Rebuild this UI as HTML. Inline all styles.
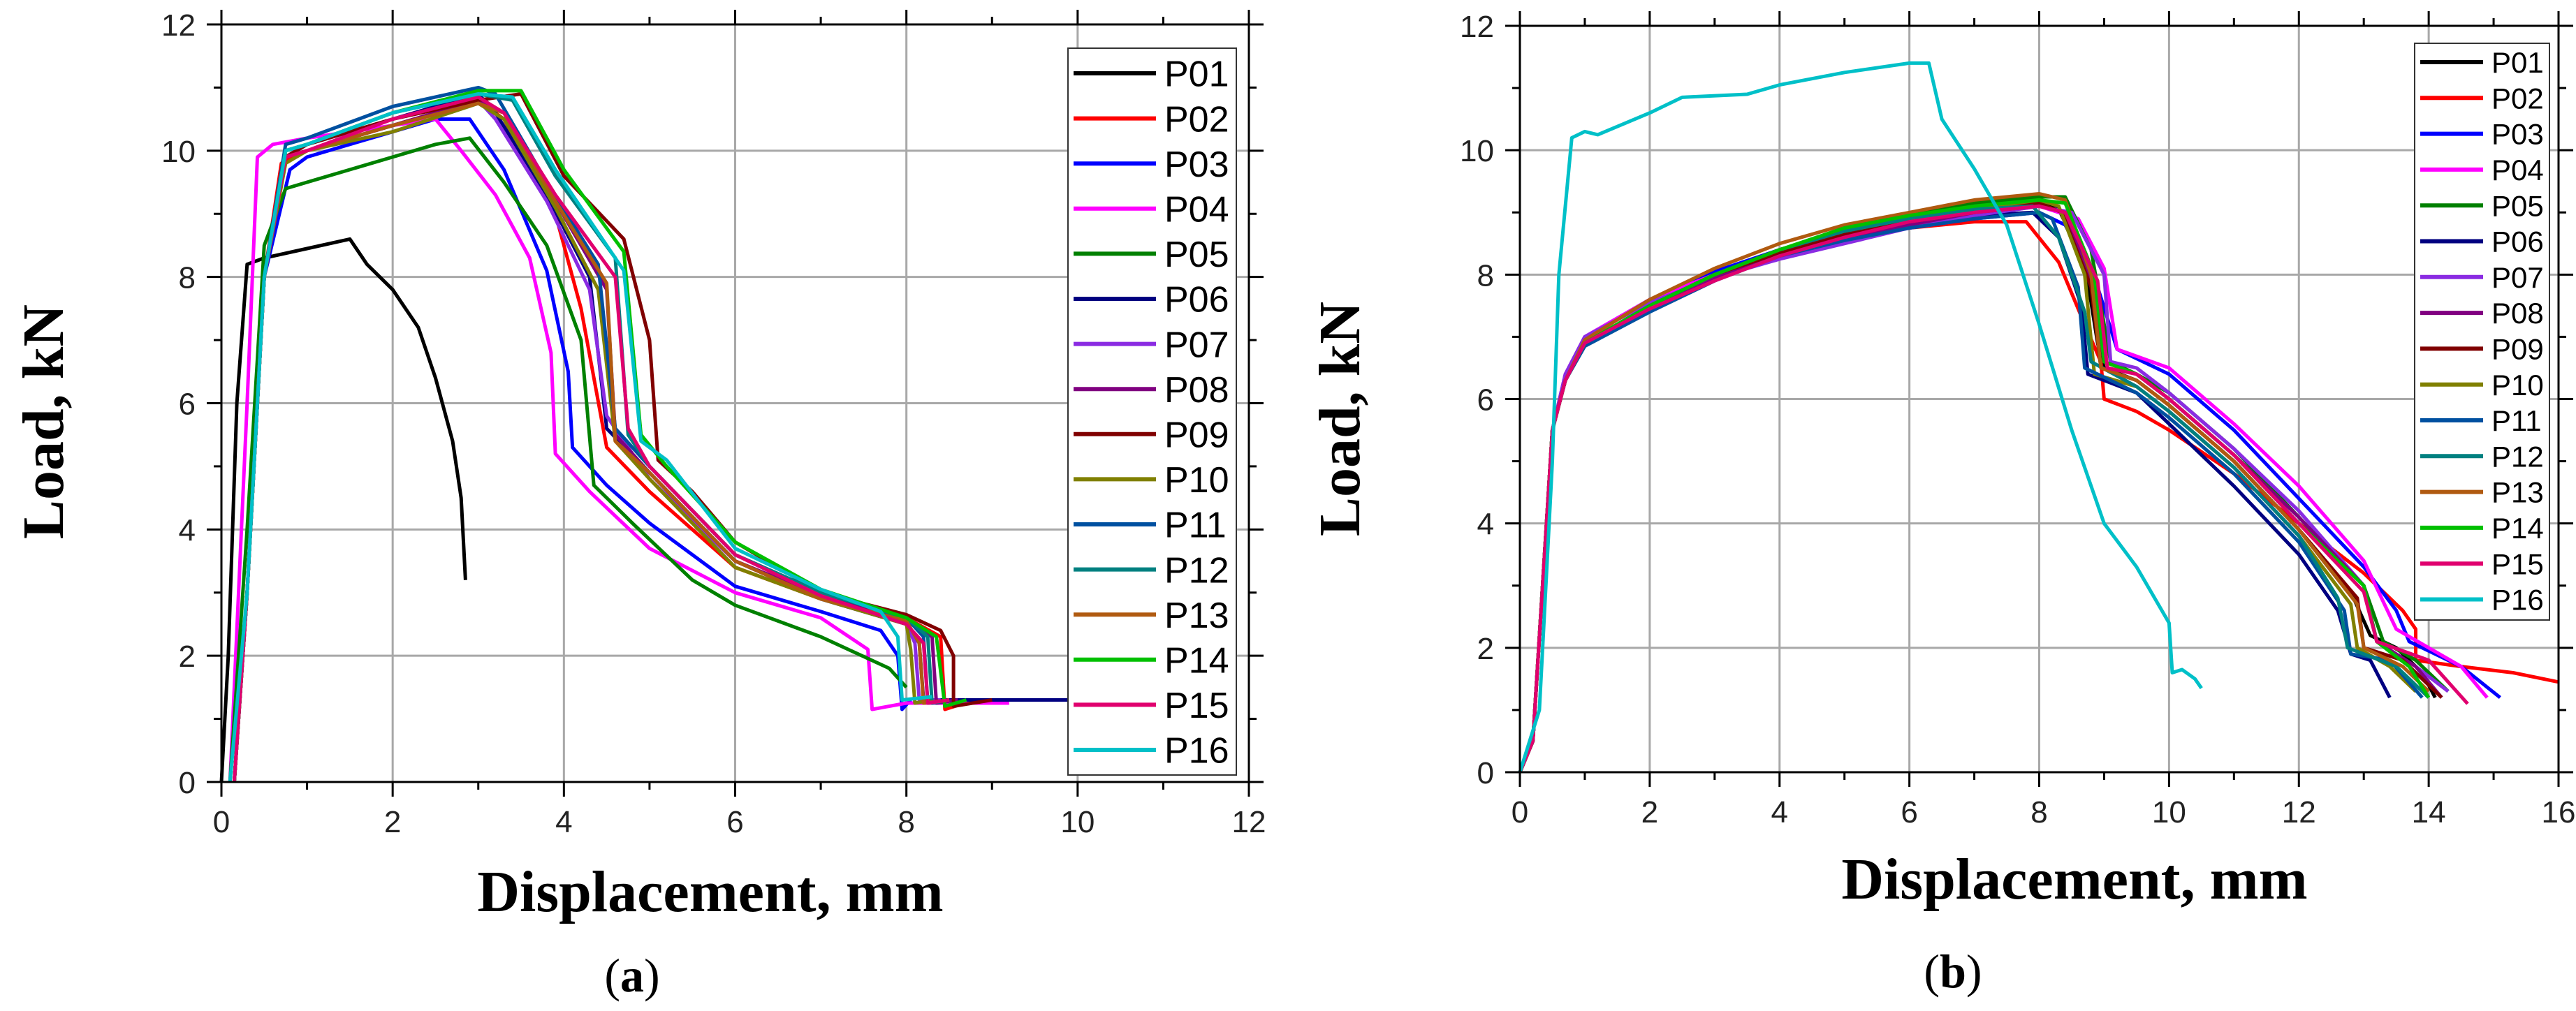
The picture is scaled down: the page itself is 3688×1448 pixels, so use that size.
<!DOCTYPE html>
<html><head><meta charset="utf-8"><style>
html,body{margin:0;padding:0;background:#fff;}
svg{display:block}
text{font-family:"Liberation Sans",sans-serif}
.ser{font-family:"Liberation Serif",serif;font-weight:bold}
</style></head><body>
<svg id="fig" width="3688" height="1448" viewBox="0 0 3688 1448" xmlns="http://www.w3.org/2000/svg">
<rect width="3688" height="1448" fill="#fff"/>
<g id="chartA"></g>
<g id="chartB"></g>
<text class="ser" x="1017" y="1305" font-size="84" text-anchor="middle">Displacement, mm</text>
<text class="ser" x="2970" y="1287" font-size="84" text-anchor="middle">Displacement, mm</text>
<text class="ser" transform="translate(90,604) rotate(-90)" font-size="84" text-anchor="middle">Load, kN</text>
<text class="ser" transform="translate(1946,600) rotate(-90)" font-size="84" text-anchor="middle">Load, kN</text>
<text x="905" y="1420" font-size="68" text-anchor="middle" style="font-family:'Liberation Serif',serif">(<tspan font-weight="bold">a</tspan>)</text>
<text x="2796" y="1414" font-size="68" text-anchor="middle" style="font-family:'Liberation Serif',serif">(<tspan font-weight="bold">b</tspan>)</text>
</svg>
<script>
const seriesNames = ["P01","P02","P03","P04","P05","P06","P07","P08","P09","P10","P11","P12","P13","P14","P15","P16"];
const seriesColors = ["#000000","#ff0000","#0000ff","#ff00ff","#008000","#000080","#8a2be2","#800080","#800000","#808000","#0050a0","#008080","#b05a10","#00c000","#e0006e","#00c0c8"];
const xTicksA = [0,2,4,6,8,10,12];
const yTicks = [0,2,4,6,8,10,12];
const xTicksB = [0,2,4,6,8,10,12,14,16];

// Panel (a) series: [displacement mm, load kN]
const a_P01 = [[0,0],[0.08,2],[0.18,6],[0.3,8.2],[0.5,8.3],[1,8.45],[1.5,8.6],[1.7,8.2],[2,7.8],[2.3,7.2],[2.5,6.4],[2.7,5.4],[2.8,4.5],[2.85,3.2]];
const a_P02 = [[0.15,0],[0.3,3],[0.5,8],[0.7,9.8],[1,10],[2,10.4],[3,10.8],[3.3,10.5],[3.9,9.0],[4.2,7.5],[4.5,5.3],[5,4.6],[6,3.4],[7,2.9],[8,2.6],[8.4,2.3],[8.45,1.15],[8.8,1.3]];
const a_P03 = [[0.15,0],[0.3,3],[0.5,8],[0.8,9.7],[1,9.9],[2,10.3],[2.5,10.5],[2.9,10.5],[3.3,9.7],[3.8,8.1],[4.05,6.5],[4.1,5.3],[4.5,4.7],[5,4.1],[6,3.1],[7,2.7],[7.7,2.4],[7.9,2],[7.95,1.15],[8.05,1.3]];
const a_P04 = [[0.1,0],[0.3,6],[0.42,9.9],[0.6,10.1],[1,10.2],[2,10.4],[2.5,10.5],[2.8,10],[3.2,9.3],[3.6,8.3],[3.85,6.8],[3.9,5.2],[4.3,4.6],[5,3.7],[6,3],[7,2.6],[7.55,2.1],[7.6,1.15],[8,1.25],[9.2,1.25]];
const a_P05 = [[0.1,0],[0.3,4],[0.5,8.5],[0.75,9.4],[1,9.5],[2,9.9],[2.5,10.1],[2.9,10.2],[3.3,9.5],[3.8,8.5],[4.2,7],[4.35,4.7],[4.8,4.1],[5.5,3.2],[6,2.8],[7,2.3],[7.8,1.8],[8,1.5]];
const a_P06 = [[0.15,0],[0.3,3],[0.5,8],[0.75,9.9],[1,10.1],[2,10.5],[3,10.9],[3.2,10.6],[3.8,9.3],[4.3,8],[4.5,5.6],[5,4.9],[6,3.5],[7,2.9],[8,2.5],[8.15,2.2],[8.2,1.3],[10,1.3],[10.3,1.25]];
const a_P07 = [[0.15,0],[0.3,3],[0.5,8],[0.75,9.9],[1,10],[2,10.4],[3,10.8],[3.2,10.5],[3.8,9.2],[4.3,7.8],[4.5,5.8],[5,4.8],[6,3.5],[7,2.9],[8,2.5],[8.1,2.2],[8.15,1.3],[8.4,1.3]];
const a_P08 = [[0.15,0],[0.3,3],[0.5,8],[0.75,9.9],[1,10],[2,10.4],[3,10.8],[3.3,10.6],[3.9,9.2],[4.5,7.8],[4.6,5.5],[5,4.9],[6,3.5],[7,2.95],[8,2.55],[8.3,2.3],[8.35,1.25],[8.6,1.3]];
const a_P09 = [[0.15,0],[0.3,3],[0.5,8],[0.75,9.9],[1,10.1],[2,10.5],[3,10.8],[3.5,10.9],[4,9.6],[4.7,8.6],[5.0,7.0],[5.1,5.1],[5.5,4.6],[6,3.8],[7,3],[8,2.65],[8.4,2.4],[8.55,2],[8.55,1.2],[9,1.3]];
const a_P10 = [[0.15,0],[0.3,3],[0.5,8],[0.75,9.8],[1,10],[2,10.3],[3,10.75],[3.3,10.5],[3.9,9.1],[4.4,7.8],[4.6,5.4],[5,4.8],[6,3.4],[7,2.9],[8,2.5],[8.05,2.1],[8.1,1.25],[8.3,1.3]];
const a_P11 = [[0.15,0],[0.3,3],[0.5,8],[0.75,10.1],[1,10.2],[2,10.7],[3,11.0],[3.2,10.9],[3.8,9.5],[4.4,8.2],[4.6,5.6],[5,5.0],[6,3.6],[7,3.0],[8,2.6],[8.2,2.3],[8.25,1.25],[8.5,1.3]];
const a_P12 = [[0.15,0],[0.3,3],[0.5,8],[0.75,10.0],[1,10.1],[2,10.6],[3,10.9],[3.4,10.8],[3.9,9.6],[4.6,8.3],[4.75,5.5],[5,5.0],[6,3.6],[7,3.0],[8,2.6],[8.25,2.3],[8.3,1.25],[8.5,1.3]];
const a_P13 = [[0.15,0],[0.3,3],[0.5,8],[0.75,9.9],[1,10],[2,10.4],[3,10.75],[3.3,10.6],[3.9,9.2],[4.5,7.9],[4.6,5.4],[5,4.9],[6,3.5],[7,2.9],[8,2.55],[8.15,2.2],[8.2,1.25],[8.5,1.3]];
const a_P14 = [[0.15,0],[0.3,3],[0.5,8],[0.75,10.0],[1,10.1],[2,10.6],[3,10.95],[3.5,10.95],[4,9.7],[4.7,8.4],[4.9,5.5],[5.2,5.0],[6,3.8],[7,3.05],[8,2.6],[8.35,2.3],[8.45,1.2],[8.7,1.3]];
const a_P15 = [[0.15,0],[0.3,3],[0.5,8],[0.75,9.9],[1,10],[2,10.5],[3,10.85],[3.3,10.6],[3.9,9.3],[4.6,8],[4.75,5.6],[5,5.0],[6,3.6],[7,2.95],[8,2.5],[8.2,2.2],[8.25,1.25],[8.5,1.3]];
const a_P16 = [[0.1,0],[0.3,3],[0.5,8],[0.75,10.0],[1,10.1],[2,10.6],[3,10.9],[3.4,10.85],[3.9,9.7],[4.7,8.1],[4.9,5.4],[5.2,5.1],[6,3.7],[7,3.05],[7.7,2.7],[7.9,2.3],[7.95,1.3],[8.3,1.35]];

// Panel (b) series
const b_P01 = [[0,0],[0.2,0.5],[0.35,3],[0.5,5.5],[0.7,6.3],[1,6.9],[2,7.5],[3,8.0],[4,8.4],[5,8.7],[6,8.9],[7,9.05],[8,9.15],[8.3,9.05],[8.7,8.2],[8.9,6.9],[9.0,6.5],[9.5,6.3],[10,5.9],[11,5.0],[12,3.9],[12.8,2.9],[13.1,2.2],[13.5,2.0],[13.9,1.6],[14.1,1.2]];
const b_P02 = [[0,0],[0.2,0.5],[0.35,3],[0.5,5.5],[0.7,6.3],[1,6.9],[2,7.5],[3,8.0],[4,8.35],[5,8.6],[6,8.75],[7,8.85],[7.8,8.85],[8.3,8.2],[8.7,7.2],[8.95,6.6],[9.0,6.0],[9.5,5.8],[10,5.5],[11,4.8],[12,4.0],[13,3.2],[13.6,2.6],[13.8,2.3],[13.8,1.8],[14.5,1.7],[15.3,1.6],[16,1.45]];
const b_P03 = [[0,0],[0.2,0.5],[0.35,3],[0.5,5.5],[0.7,6.4],[1,7.0],[2,7.6],[3,8.05],[4,8.4],[5,8.6],[6,8.75],[7,8.9],[8,9.0],[8.4,8.8],[8.9,7.8],[9.2,6.8],[10,6.4],[11,5.5],[12,4.4],[13,3.3],[13.5,2.6],[13.7,2.1],[14.5,1.7],[15.1,1.2]];
const b_P04 = [[0,0],[0.2,0.5],[0.35,3],[0.5,5.5],[0.7,6.4],[1,7.0],[2,7.6],[3,8.0],[4,8.3],[5,8.55],[6,8.75],[7,8.95],[8,9.1],[8.6,8.9],[9.0,8.1],[9.2,6.8],[10,6.5],[11,5.6],[12,4.6],[13,3.4],[13.5,2.3],[14,2.0],[14.5,1.7],[14.9,1.2]];
const b_P05 = [[0,0],[0.2,0.5],[0.35,3],[0.5,5.5],[0.7,6.3],[1,6.9],[2,7.5],[3,8.0],[4,8.4],[5,8.7],[6,8.95],[7,9.15],[8,9.25],[8.4,9.25],[8.8,8.4],[9.1,6.6],[9.5,6.4],[10,6.1],[11,5.2],[12,4.1],[13,3.0],[13.3,2.1],[13.8,1.8],[14.3,1.3]];
const b_P06 = [[0,0],[0.2,0.5],[0.35,3],[0.5,5.5],[0.7,6.3],[1,6.9],[2,7.5],[3,8.0],[4,8.35],[5,8.6],[6,8.8],[7,8.95],[7.9,9.0],[8.3,8.6],[8.65,7.5],[8.75,6.4],[9.5,6.1],[10,5.6],[11,4.6],[12,3.5],[12.6,2.6],[12.8,1.9],[13.1,1.8],[13.4,1.2]];
const b_P07 = [[0,0],[0.2,0.5],[0.35,3],[0.5,5.5],[0.7,6.4],[1,7.0],[2,7.55],[3,7.95],[4,8.25],[5,8.5],[6,8.75],[7,8.95],[8,9.1],[8.5,9.0],[9.0,8.0],[9.1,6.6],[9.5,6.5],[10,6.1],[11,5.2],[12,4.2],[13,3.0],[13.2,2.1],[13.8,1.7],[14.3,1.3]];
const b_P08 = [[0,0],[0.2,0.5],[0.35,3],[0.5,5.5],[0.7,6.3],[1,6.9],[2,7.45],[3,7.95],[4,8.3],[5,8.6],[6,8.8],[7,9.0],[8,9.1],[8.4,9.0],[8.85,7.8],[9.0,6.6],[9.5,6.4],[10,6.0],[11,5.1],[12,4.1],[13,3.0],[13.2,2.1],[13.8,1.7],[14.2,1.2]];
const b_P09 = [[0,0],[0.2,0.5],[0.35,3],[0.5,5.5],[0.7,6.3],[1,6.9],[2,7.5],[3,8.0],[4,8.35],[5,8.65],[6,8.85],[7,9.0],[8,9.15],[8.35,9.0],[8.8,7.8],[8.95,6.5],[9.5,6.3],[10,5.9],[11,5.0],[12,3.9],[12.9,2.8],[13.0,2.0],[13.6,1.8],[14.2,1.2]];
const b_P10 = [[0,0],[0.2,0.5],[0.35,3],[0.5,5.5],[0.7,6.3],[1,6.9],[2,7.5],[3,8.0],[4,8.4],[5,8.7],[6,8.9],[7,9.05],[8,9.2],[8.3,9.1],[8.7,8.0],[8.85,6.4],[9.5,6.2],[10,5.8],[11,4.9],[12,3.8],[12.8,2.7],[12.9,2.0],[13.4,1.7],[13.8,1.3]];
const b_P11 = [[0,0],[0.2,0.5],[0.35,3],[0.5,5.5],[0.7,6.3],[1,6.85],[2,7.4],[3,7.9],[4,8.3],[5,8.55],[6,8.75],[7,8.9],[8,9.0],[8.2,8.9],[8.6,7.8],[8.7,6.5],[9.5,6.1],[10,5.7],[11,4.8],[12,3.7],[12.7,2.6],[12.8,1.9],[13.4,1.8],[13.9,1.2]];
const b_P12 = [[0,0],[0.2,0.5],[0.35,3],[0.5,5.5],[0.7,6.3],[1,6.9],[2,7.5],[3,8.0],[4,8.4],[5,8.7],[6,8.9],[7,9.05],[7.9,9.1],[8.3,8.6],[8.7,7.4],[8.8,6.6],[9.5,6.2],[10,5.8],[11,4.9],[12,3.8],[12.6,2.8],[12.75,2.0],[13.5,1.7],[14,1.2]];
const b_P13 = [[0,0],[0.2,0.5],[0.35,3],[0.5,5.5],[0.7,6.3],[1,6.95],[2,7.6],[3,8.1],[4,8.5],[5,8.8],[6,9.0],[7,9.2],[8,9.3],[8.4,9.2],[8.8,8.0],[8.95,6.5],[9.5,6.3],[10,5.9],[11,5.0],[12,3.9],[12.9,2.7],[13.0,2.0],[13.6,1.7],[14,1.3]];
const b_P14 = [[0,0],[0.2,0.5],[0.35,3],[0.5,5.5],[0.7,6.3],[1,6.9],[2,7.5],[3,8.0],[4,8.4],[5,8.75],[6,8.95],[7,9.1],[8,9.2],[8.4,9.15],[8.85,8.0],[9.0,6.6],[9.5,6.4],[10,6.0],[11,5.1],[12,4.0],[13,3.0],[13.2,2.1],[13.7,1.7],[14.0,1.2]];
const b_P15 = [[0,0],[0.2,0.5],[0.35,3],[0.5,5.5],[0.7,6.3],[1,6.9],[2,7.45],[3,7.9],[4,8.3],[5,8.6],[6,8.85],[7,9.0],[8,9.1],[8.4,9.0],[8.9,7.9],[9.05,6.5],[9.5,6.4],[10,6.0],[11,5.1],[12,4.0],[13,2.9],[13.2,2.1],[14,1.8],[14.6,1.1]];
const b_P16 = [[0,0],[0.3,1],[0.5,5],[0.6,8],[0.8,10.2],[1,10.3],[1.2,10.25],[2,10.6],[2.5,10.85],[3.5,10.9],[4,11.05],[5,11.25],[6,11.4],[6.3,11.4],[6.5,10.5],[7,9.7],[7.5,8.8],[8,7.2],[8.5,5.5],[9,4],[9.5,3.3],[10,2.4],[10.05,1.6],[10.2,1.65],[10.4,1.5],[10.5,1.35]];

const seriesA = [a_P01,a_P02,a_P03,a_P04,a_P05,a_P06,a_P07,a_P08,a_P09,a_P10,a_P11,a_P12,a_P13,a_P14,a_P15,a_P16];
const seriesB = [b_P01,b_P02,b_P03,b_P04,b_P05,b_P06,b_P07,b_P08,b_P09,b_P10,b_P11,b_P12,b_P13,b_P14,b_P15,b_P16];

const NS = "http://www.w3.org/2000/svg";
function mk(parent, tag, attrs){ const e=document.createElementNS(NS,tag); for(const k in attrs) e.setAttribute(k,attrs[k]); parent.appendChild(e); return e; }

function drawChart(g, cfg, series, xTicks){
  const sx = v => cfg.x0 + (v - 0) / cfg.xMax * (cfg.x1 - cfg.x0);
  const sy = v => cfg.y0 - v / 12 * (cfg.y0 - cfg.y1);
  xTicks.forEach(t=>{ if(t>0 && t<cfg.xMax){ const l=mk(g,'line',{x1:sx(t),x2:sx(t),y1:cfg.y1,y2:cfg.y0,stroke:'#a8a8a8','stroke-width':3});
    
     }});
  yTicks.forEach(t=>{ if(t>0 && t<12){ const l=mk(g,'line',{x1:cfg.x0,x2:cfg.x1,y1:sy(t),y2:sy(t),stroke:'#a8a8a8','stroke-width':3});
    
     }});
  series.forEach((s,i)=>{
    const p = mk(g,'polyline',{points:s.map(d=>sx(d[0]).toFixed(1)+','+sy(d[1]).toFixed(1)).join(' '),fill:'none',stroke:seriesColors[i],'stroke-width':5,'stroke-linejoin':'round'});
    
    
  });
  const fr = mk(g,'rect',{x:cfg.x0,y:cfg.y1,width:cfg.x1-cfg.x0,height:cfg.y0-cfg.y1,fill:'none',stroke:'#000','stroke-width':3});
  
  
  for(let t=0;t<=cfg.xMax;t+=1){ const len = t%2===0?21:11;
    mk(g,'line',{x1:sx(t),x2:sx(t),y1:cfg.y0,y2:cfg.y0+len,stroke:'#000','stroke-width':3});
    mk(g,'line',{x1:sx(t),x2:sx(t),y1:cfg.y1,y2:cfg.y1-len,stroke:'#000','stroke-width':3}); }
  for(let t=0;t<=12;t+=1){ const len = t%2===0?21:11;
    mk(g,'line',{x1:cfg.x0,x2:cfg.x0-len,y1:sy(t),y2:sy(t),stroke:'#000','stroke-width':3});
    mk(g,'line',{x1:cfg.x1,x2:cfg.x1+len,y1:sy(t),y2:sy(t),stroke:'#000','stroke-width':3}); }
  xTicks.forEach(t=>{ const tx=mk(g,'text',{x:sx(t),y:cfg.y0+72,'font-size':44,'text-anchor':'middle',fill:'#222'}); tx.textContent=t;
    
     });
  yTicks.forEach(t=>{ const tx=mk(g,'text',{x:cfg.x0-37,y:sy(t)+16,'font-size':44,'text-anchor':'end',fill:'#222'}); tx.textContent=t;
    
     });
  const L = cfg.leg;
  const lg = mk(g,'g',{});
  
  
  mk(lg,'rect',{x:L.x,y:L.y,width:L.w,height:L.h,fill:'#fff',stroke:'#333','stroke-width':2});
  seriesNames.forEach((n,i)=>{
    const yy = L.y + L.pad + i*L.step;
    const e = mk(lg,'g',{});
    
    
    mk(e,'line',{x1:L.x+8,x2:L.x+L.lineW,y1:yy,y2:yy,stroke:seriesColors[i],'stroke-width':6});
    const t = mk(e,'text',{x:L.x+L.lineW+12,y:yy+L.fs*0.36,'font-size':L.fs,fill:'#000'}); t.textContent=n;
  });
}
drawChart(document.getElementById('chartA'),{x0:317,x1:1788,y0:1120,y1:35,xMax:12,leg:{x:1529,y:69,w:241,h:1041,pad:36,step:64.6,lineW:126,fs:52}},seriesA,xTicksA);
drawChart(document.getElementById('chartB'),{x0:2176,x1:3663,y0:1106,y1:37,xMax:16,leg:{x:3457,y:62,w:193,h:826,pad:27,step:51.3,lineW:98,fs:42}},seriesB,xTicksB);
</script>
</body></html>
